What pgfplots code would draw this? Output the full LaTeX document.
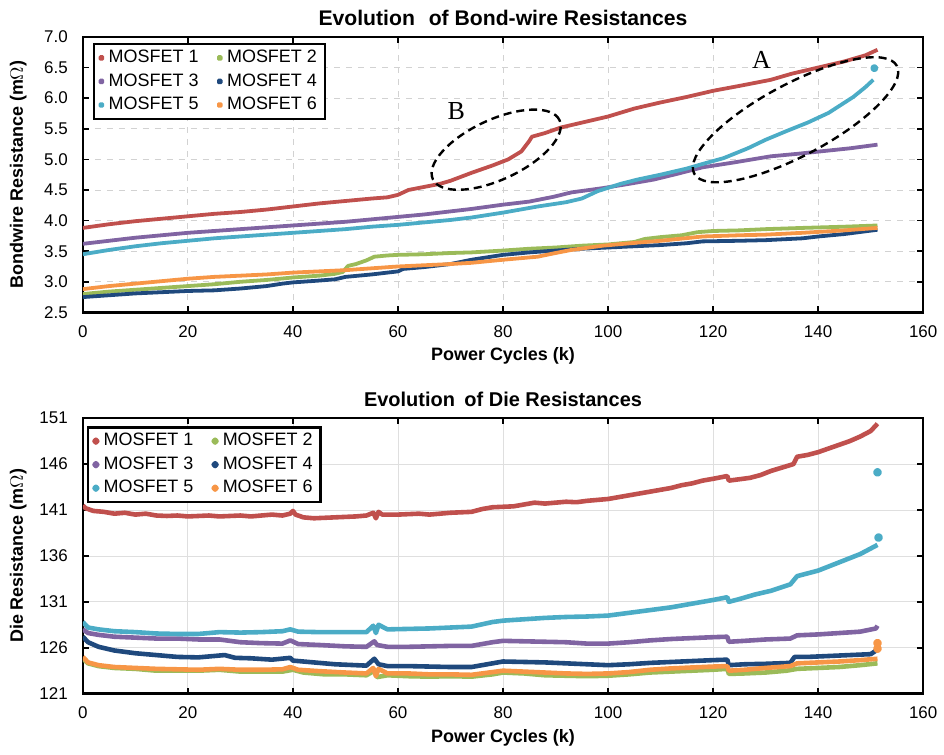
\documentclass[border=0pt]{standalone}
\usepackage{fontspec}
\setmainfont{Liberation Sans}
\newfontfamily\timesfont{Liberation Serif}
\usepackage{pgfplots}
\pgfplotsset{compat=1.18}

\definecolor{m1}{HTML}{C0504D}
\definecolor{m2}{HTML}{9BBB59}
\definecolor{m3}{HTML}{8064A2}
\definecolor{m4}{HTML}{1F497D}
\definecolor{m5}{HTML}{4BACC6}
\definecolor{m6}{HTML}{F79646}

\pgfplotsset{
  resplot/.style={
    width=421pt, height=138pt, scale only axis,
    xmin=0, xmax=160, xtick={0,20,...,160},
    axis line style={line width=1.2pt},
    tick align=inside, major tick length=3pt,
    tick style={black, line width=0.8pt},
    grid=major, grid style={dashed, gray!35, line width=0.4pt},
    tick label style={font=\fontsize{8.5}{10}\selectfont},
    /pgf/number format/assume math mode=true,
    xticklabel style={yshift=-3pt},
    yticklabel style={xshift=-4pt},
    xlabel={Power Cycles (k)},
    label style={font=\bfseries\fontsize{9}{10}\selectfont},
    xlabel style={at={(axis description cs:0.5,0)}, anchor=center, yshift=-22pt},
    ylabel style={at={(axis description cs:-0.077,0.5)}, anchor=center},
    title style={font=\bfseries\fontsize{10}{11}\selectfont,
      at={(axis description cs:0.5,1)}, anchor=center, yshift=3.5pt},
    legend columns=2,
    legend style={draw=black, line width=1.2pt, anchor=north west,
      font=\fontsize{9}{11}\selectfont, inner xsep=2pt, inner ysep=1pt,
      /tikz/every even column/.append style={column sep=7pt}},
    legend image code/.code={\fill[#1] (0.12cm,0cm) circle (0.7pt);},
    every axis plot/.append style={line width=1.9pt, line join=round},
  },
}

\begin{document}
\begin{tikzpicture}
% bond-wire resistances
\begin{axis}[resplot,
  at={(0pt,0pt)},
  title={Evolution\hspace{4pt} of Bond-wire Resistances},
  title style={font=\bfseries\fontsize{10.6}{11}\selectfont},
  ylabel={Bondwire Resistance (m$\Omega$)},
  ymin=2.5, ymax=7.0, ytick={2.5,3.0,...,7.0},
  yticklabel style={/pgf/number format/.cd, fixed, fixed zerofill, precision=1},
  legend style={at={(0.012,0.978)}},
]
\addplot[m1] coordinates {(0,3.88)(5,3.94)(10,3.99)(15,4.03)(20,4.07)(25,4.11)(30,4.14)(35,4.18)(40,4.23)(45,4.28)(50,4.32)(55,4.36)(58,4.38)(60,4.42)(62,4.50)(65,4.55)(68,4.60)(70,4.65)(74,4.78)(78,4.90)(81,5.00)(83.5,5.13)(85,5.30)(85.5,5.37)(88,5.43)(91,5.52)(95,5.60)(100,5.70)(105,5.83)(110,5.93)(115,6.02)(120,6.12)(125,6.20)(131,6.30)(135,6.40)(140,6.50)(145,6.60)(149,6.70)(151.3,6.79)};
\addlegendentry{MOSFET 1}
\addplot[m2] coordinates {(0,2.80)(5,2.84)(10,2.87)(15,2.90)(20,2.93)(25,2.96)(30,3.00)(35,3.03)(40,3.07)(45,3.10)(48,3.13)(49.5,3.16)(50.5,3.26)(52,3.29)(54,3.35)(55.5,3.41)(58,3.43)(60,3.44)(65,3.45)(70,3.47)(74,3.48)(80,3.51)(85,3.54)(90,3.56)(95,3.59)(100,3.61)(105,3.65)(107,3.70)(110,3.73)(114,3.76)(117,3.81)(120,3.83)(125,3.84)(130,3.86)(137,3.88)(145,3.90)(151.3,3.92)};
\addlegendentry{MOSFET 2}
\addplot[m3] coordinates {(0,3.62)(5,3.67)(10,3.72)(15,3.76)(20,3.80)(25,3.83)(30,3.86)(35,3.89)(40,3.92)(45,3.95)(50,3.98)(55,4.02)(60,4.06)(65,4.10)(70,4.15)(74,4.19)(80,4.26)(85,4.31)(89.7,4.39)(93,4.46)(99,4.53)(104,4.60)(108.7,4.67)(113,4.76)(118,4.87)(124,4.95)(131,5.05)(136,5.09)(140.4,5.13)(146,5.18)(151.3,5.24)};
\addlegendentry{MOSFET 3}
\addplot[m4] coordinates {(0,2.75)(5,2.78)(10,2.81)(15,2.83)(20,2.85)(25,2.86)(30,2.89)(35,2.93)(38,2.97)(40,2.99)(45,3.02)(48,3.04)(50,3.08)(55,3.12)(60,3.17)(61,3.21)(65,3.24)(70,3.29)(74,3.36)(80,3.44)(85,3.48)(90,3.51)(95,3.54)(100,3.56)(105,3.58)(110,3.60)(115,3.63)(118,3.66)(125,3.67)(130,3.68)(137,3.71)(140,3.74)(145,3.78)(151.3,3.85)};
\addlegendentry{MOSFET 4}
\addplot[m5] coordinates {(0,3.45)(5,3.52)(10,3.58)(15,3.63)(20,3.67)(25,3.71)(30,3.74)(35,3.77)(40,3.80)(45,3.83)(50,3.86)(55,3.90)(60,3.93)(65,3.97)(70,4.01)(74,4.05)(80,4.13)(86.6,4.23)(92,4.30)(95,4.36)(98,4.48)(102.4,4.60)(105.6,4.67)(110,4.75)(115,4.85)(118.2,4.93)(122,5.02)(126.6,5.18)(130,5.32)(134.2,5.47)(138,5.60)(142,5.76)(146.7,6.02)(149,6.18)(150.5,6.30)};
\addlegendentry{MOSFET 5}
\addplot[m6] coordinates {(0,2.88)(5,2.93)(10,2.97)(15,3.01)(20,3.05)(25,3.08)(30,3.10)(35,3.12)(40,3.15)(45,3.17)(50,3.19)(55,3.22)(60,3.25)(65,3.27)(70,3.29)(74,3.31)(80,3.36)(86.6,3.41)(90,3.47)(93,3.52)(99,3.59)(105.6,3.64)(110,3.67)(118,3.74)(125,3.76)(130,3.77)(137,3.80)(145,3.84)(151.3,3.88)};
\addlegendentry{MOSFET 6}
\addplot[m5, only marks, mark=*, mark size=1pt, forget plot] coordinates {(150.7,6.49)};
% annotations
\draw[line width=1.2pt, dash pattern=on 4pt off 2.5pt] (axis cs:78.7,5.158) circle[x radius=35pt, y radius=15pt, rotate=25];
\draw[line width=1.2pt, dash pattern=on 4pt off 2.5pt] (axis cs:135.7,5.647) circle[x radius=57.5pt, y radius=18pt, rotate=28];
\node[font=\timesfont\fontsize{13}{13}\selectfont] at (axis cs:71.1,5.79) {B};
\node[font=\timesfont\fontsize{13}{13}\selectfont] at (axis cs:129.2,6.625) {A};
\end{axis}

% die resistances
\begin{axis}[resplot,
  at={(0pt,-191pt)},
  title={Evolution\hspace{2pt} of Die Resistances},
  ylabel={Die Resistance (m$\Omega$)},
  ymin=121, ymax=151, ytick={121,126,...,151},
  grid style={solid, gray!25, line width=0.4pt},
  legend style={at={(0.005,0.971)}},
  every axis plot/.append style={line width=2.3pt},
]
\addplot[m1] coordinates {(0,141.5)(0.5,141.2)(2,140.9)(4,140.8)(6,140.6)(8,140.7)(10,140.5)(12,140.6)(14,140.4)(16,140.35)(18,140.4)(20,140.3)(22,140.35)(24,140.4)(26,140.3)(28,140.35)(30,140.4)(32,140.3)(34,140.4)(36,140.5)(38,140.4)(39.5,140.6)(40,140.9)(40.5,140.5)(42,140.2)(44,140.1)(46,140.15)(48,140.2)(50,140.25)(52,140.3)(54,140.4)(55.3,140.7)(55.8,140.1)(56.3,140.8)(57,140.5)(60,140.5)(62,140.55)(64,140.6)(66,140.5)(68,140.6)(70,140.7)(72,140.75)(74,140.8)(76,141.1)(78,141.3)(80,141.35)(82,141.4)(84,141.6)(86,141.8)(88,141.7)(90,141.8)(92,141.9)(94,141.85)(96,142.0)(98,142.1)(100,142.2)(102,142.4)(104,142.6)(106,142.8)(108,143.0)(110,143.2)(112,143.4)(114,143.7)(116,143.9)(118,144.2)(120,144.4)(122.7,144.7)(123,144.2)(125,144.35)(127,144.5)(129,144.8)(131,145.25)(133,145.6)(135.3,146.0)(136,146.8)(138,147.0)(140,147.3)(142,147.7)(144,148.1)(146,148.5)(148,149.0)(150,149.6)(151.3,150.4)};
\addlegendentry{MOSFET 1}
\addplot[m2] coordinates {(0,124.8)(1,124.3)(3,124.0)(6,123.8)(10,123.7)(14,123.5)(18,123.5)(22,123.5)(26,123.6)(30,123.4)(34,123.4)(38,123.4)(40,123.6)(42,123.3)(46,123.1)(50,123.1)(54,123.0)(55.5,123.5)(56,122.8)(58,123.0)(62,122.9)(66,122.85)(70,122.9)(74,122.85)(78,123.1)(80,123.3)(84,123.2)(88,123.0)(92,122.95)(96,122.9)(100,122.95)(104,123.1)(108,123.3)(112,123.4)(116,123.5)(120,123.6)(122.7,123.7)(123,123.15)(126,123.2)(130,123.3)(134,123.5)(136,123.7)(140,123.8)(144,123.9)(148,124.1)(151.3,124.3)};
\addlegendentry{MOSFET 2}
\addplot[m3] coordinates {(0,128.0)(1,127.6)(3,127.4)(6,127.2)(10,127.1)(14,127.0)(18,127.0)(22,126.9)(26,126.9)(30,126.6)(34,126.5)(38,126.45)(39.5,126.8)(41,126.4)(45,126.3)(50,126.15)(54,126.1)(55.5,126.7)(56,126.3)(58,126.1)(62,126.1)(66,126.15)(70,126.2)(74,126.2)(78,126.6)(80,126.75)(84,126.7)(88,126.65)(92,126.6)(96,126.45)(100,126.45)(104,126.6)(108,126.8)(112,126.95)(116,127.05)(120,127.15)(122.7,127.2)(123,126.65)(126,126.75)(130,126.9)(134.7,127.0)(136,127.35)(140,127.45)(144,127.6)(148,127.75)(151,128.1)(151.3,128.4)};
\addlegendentry{MOSFET 3}
\addplot[m4] coordinates {(0,127.2)(1,126.6)(3,126.1)(6,125.7)(10,125.4)(14,125.2)(18,125.0)(22,124.95)(25,125.1)(27,125.2)(29,124.9)(32,124.85)(36,124.7)(39.5,124.9)(40,124.6)(44,124.4)(48,124.2)(52,124.1)(54,124.05)(55.5,124.8)(56.3,124.2)(58,124.0)(62,124.0)(66,123.95)(70,123.9)(74,123.9)(78,124.3)(80,124.5)(84,124.45)(88,124.4)(92,124.3)(96,124.2)(100,124.1)(104,124.2)(108,124.35)(112,124.45)(116,124.55)(120,124.65)(122.7,124.7)(123,124.1)(126,124.2)(130,124.25)(134.7,124.35)(135.5,125.0)(138,125.0)(142,125.1)(146,125.2)(150,125.3)(151.3,125.8)};
\addlegendentry{MOSFET 4}
\addplot[m5] coordinates {(0,128.8)(1,128.2)(3,128.0)(6,127.8)(10,127.7)(14,127.55)(18,127.5)(22,127.5)(26,127.7)(30,127.65)(34,127.7)(38,127.8)(39.5,128.0)(41,127.75)(45,127.7)(50,127.7)(54,127.7)(55.3,128.4)(55.8,127.6)(56.3,128.5)(58,128.0)(62,128.05)(66,128.1)(70,128.2)(74,128.3)(78,128.8)(80,128.95)(84,129.1)(88,129.25)(92,129.35)(96,129.4)(100,129.5)(104,129.8)(108,130.1)(112,130.4)(116,130.8)(120,131.2)(122.7,131.5)(123,131.0)(125,131.3)(128,131.8)(131,132.2)(134.7,132.9)(136,133.8)(140,134.4)(144,135.3)(148,136.2)(151.3,137.2)};
\addlegendentry{MOSFET 5}
\addplot[m6] coordinates {(0,125.0)(1,124.4)(3,124.1)(6,123.9)(10,123.8)(14,123.7)(18,123.65)(22,123.6)(26,123.7)(30,123.6)(34,123.6)(38,123.65)(39.5,123.9)(41,123.6)(45,123.45)(50,123.3)(54,123.2)(55.3,123.8)(55.8,122.9)(56.3,123.7)(58,123.2)(62,123.2)(66,123.1)(70,123.1)(74,123.05)(78,123.35)(80,123.5)(84,123.4)(88,123.3)(92,123.2)(96,123.15)(100,123.2)(104,123.35)(108,123.6)(112,123.75)(116,123.85)(120,123.95)(122.7,124.0)(123,123.5)(126,123.6)(130,123.8)(134.7,124.0)(136,124.3)(140,124.4)(144,124.5)(148,124.65)(151.3,124.8)};
\addlegendentry{MOSFET 6}
\addplot[m5, only marks, mark=*, mark size=1pt, forget plot] coordinates {(151.5,138.0)(151.3,145.1)};
\addplot[m6, only marks, mark=*, mark size=1pt, forget plot] coordinates {(151.3,126.5)(151.3,125.9)};
\end{axis}
% page extent of the reference image
\path (-41.5pt,156.5pt) rectangle (430.5pt,-221.5pt);
\end{tikzpicture}
\end{document}
